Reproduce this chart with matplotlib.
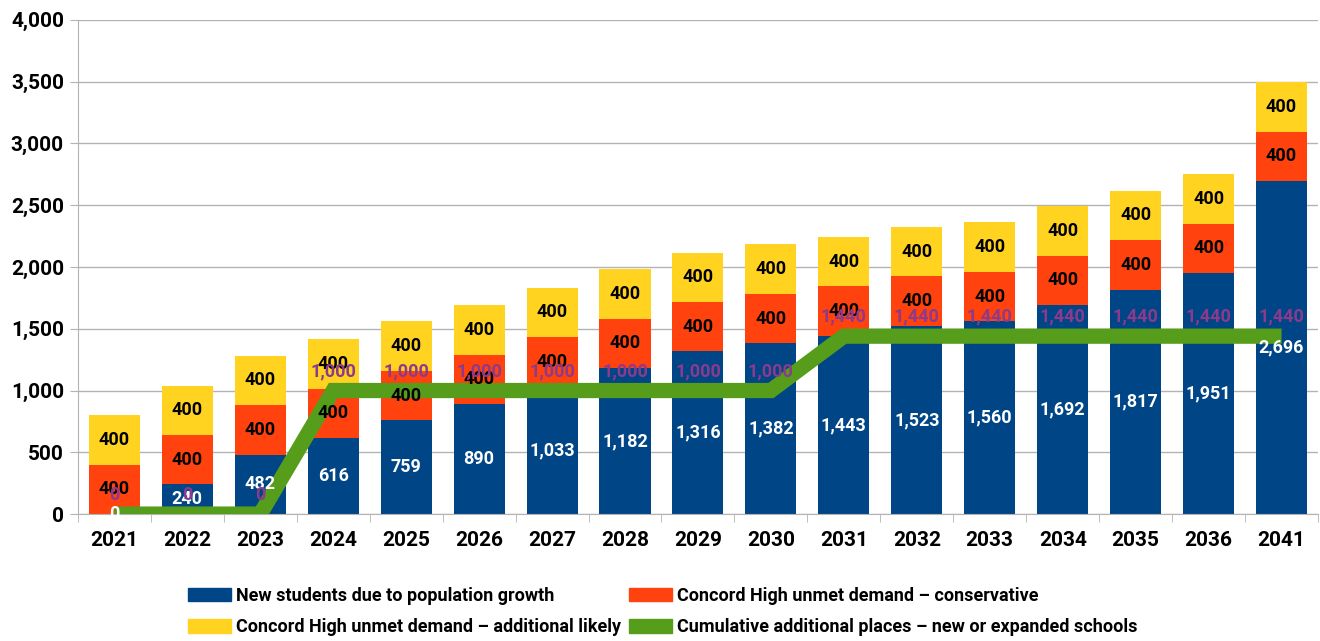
import numpy as np
import matplotlib
matplotlib.use('Agg')
import matplotlib.pyplot as plt
from matplotlib.ticker import FuncFormatter, FixedLocator
from matplotlib.patches import Patch

years = ['2021', '2022', '2023', '2024', '2025', '2026', '2027', '2028', '2029',
         '2030', '2031', '2032', '2033', '2034', '2035', '2036', '2041']
new_students = [0, 240, 482, 616, 759, 890, 1033, 1182, 1316, 1382, 1443,
                1523, 1560, 1692, 1817, 1951, 2696]
conservative = [400] * 17
additional = [400] * 17
places = [0, 0, 0, 1000, 1000, 1000, 1000, 1000, 1000, 1000, 1440,
          1440, 1440, 1440, 1440, 1440, 1440]

c_blue = '#004586'
c_orange = '#ff420e'
c_yellow = '#ffd320'
c_green = '#579d1c'
c_purple = '#8b3a8c'

plt.rcParams['font.family'] = ['Roboto', 'DejaVu Sans']

fig = plt.figure(figsize=(13.2, 6.41), dpi=100)
ax = fig.add_axes([0.059, 0.198, 0.9395, 0.771])

x = np.arange(len(years))
w = 0.7
ax.bar(x, new_students, w, color=c_blue, zorder=2)
ax.bar(x, conservative, w, bottom=new_students, color=c_orange, zorder=2)
bot3 = [a + b for a, b in zip(new_students, conservative)]
ax.bar(x, additional, w, bottom=bot3, color=c_yellow, zorder=2)
ax.plot(x, places, color=c_green, lw=11, solid_joinstyle='miter',
        solid_capstyle='butt', zorder=3)

fmt = lambda v: f'{v:,.0f}'
for i in range(len(x)):
    ax.text(x[i], new_students[i] / 2, fmt(new_students[i]), ha='center', va='center',
            color='white', fontsize=13, fontweight='bold', zorder=5)
    ax.text(x[i], new_students[i] + conservative[i] / 2, fmt(conservative[i]), ha='center',
            va='center', color='black', fontsize=13, fontweight='bold', zorder=5)
    ax.text(x[i], bot3[i] + additional[i] / 2, fmt(additional[i]), ha='center',
            va='center', color='black', fontsize=13, fontweight='bold', zorder=5)
    ax.annotate(fmt(places[i]), (x[i], places[i]), xytext=(0, 14), textcoords='offset points',
                ha='center', va='center', color=c_purple, fontsize=13, fontweight='bold', zorder=6)

ax.set_xlim(-0.5, len(x) - 0.5)
ax.set_ylim(0, 4000)
ax.set_yticks(np.arange(0, 4001, 500))
ax.yaxis.set_major_formatter(FuncFormatter(lambda v, p: f'{v:,.0f}'))
ax.set_xticks(x)
ax.set_xticklabels(years)
ax.xaxis.set_minor_locator(FixedLocator(np.arange(-0.5, len(x), 1)))
ax.tick_params(axis='x', which='major', length=0, pad=12, labelsize=15)
ax.tick_params(axis='x', which='minor', length=6, color='#b3b3b3')
ax.tick_params(axis='y', length=6, color='#b3b3b3', labelsize=15, pad=4)
for lab in ax.get_xticklabels() + ax.get_yticklabels():
    lab.set_fontweight('bold')
ax.grid(axis='y', color='#b3b3b3', lw=1, zorder=0)
ax.set_axisbelow(True)
for s in ['top', 'right']:
    ax.spines[s].set_visible(False)
ax.spines['left'].set_color('#b3b3b3')
ax.spines['bottom'].set_color('#b3b3b3')

labels = ['New students due to population growth',
          'Concord High unmet demand \u2013 additional likely',
          'Concord High unmet demand \u2013 conservative',
          'Cumulative additional places \u2013 new or expanded schools']
hpatches = [Patch(color=c_blue), Patch(color=c_yellow), Patch(color=c_orange), Patch(color=c_green)]
fig.legend(hpatches, labels, ncol=2, loc='center', bbox_to_anchor=(0.502, 0.046),
           frameon=False, handlelength=2.4, handleheight=0.8,
           columnspacing=0.4, handletextpad=0.3, labelspacing=0.75,
           prop={'weight': 'bold', 'size': 13})

fig.savefig('out.png', dpi=100)
plt.close()
